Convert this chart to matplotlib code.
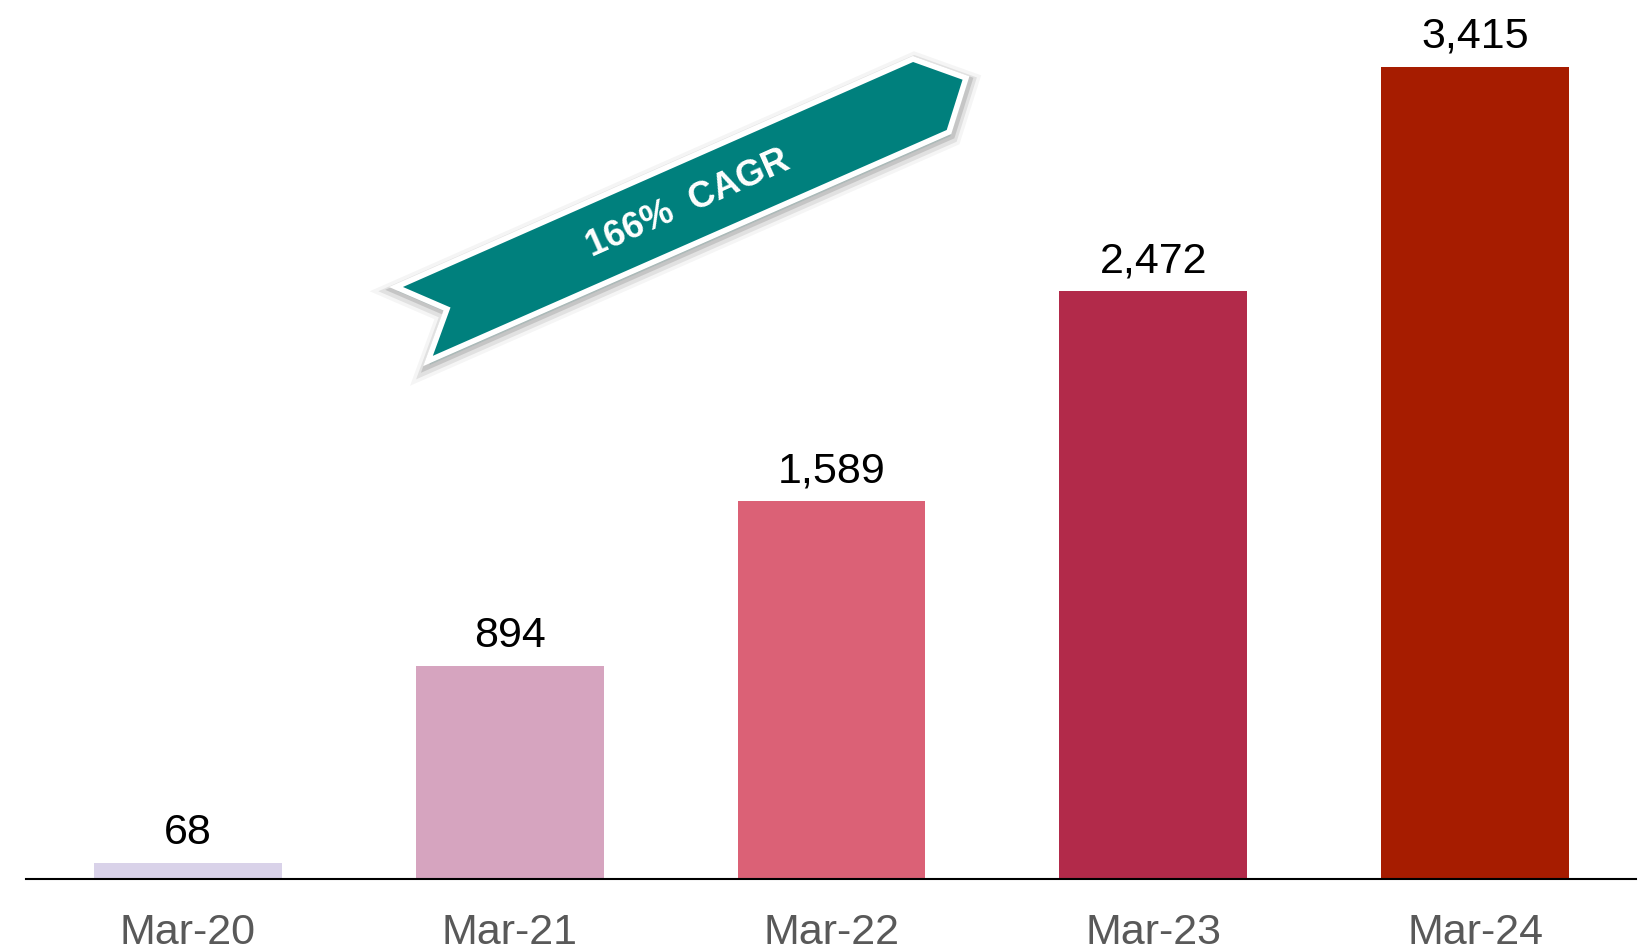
import matplotlib.pyplot as plt
import matplotlib.patheffects as pe
from matplotlib.patches import Polygon

plt.rcParams['font.family'] = ['Liberation Sans', 'DejaVu Sans']

# data
periods = ['Mar-20', 'Mar-21', 'Mar-22', 'Mar-23', 'Mar-24']
values = [68, 894, 1589, 2472, 3415]
bar_colors = ['#D9D2E9', '#D6A4BF', '#DB6176', '#B22A4A', '#A61C00']
cagr_text = '166%  CAGR'

W, H = 1647, 953
fig = plt.figure(figsize=(W / 100, H / 100), dpi=100)
ax = fig.add_axes([26 / W, 73 / H, (1636 - 26) / W, (H - 73) / H])

x = list(range(len(periods)))
ax.bar(x, values, width=0.584, color=bar_colors, zorder=2)

for xi, v in zip(x, values):
    ax.annotate(f'{v:,}', (xi, v), xytext=(0, 20), textcoords='offset pixels',
                ha='center', va='baseline', fontsize=31, color='black')

ax.set_xlim(-0.503, 4.5)
ax.set_ylim(0, 3415 * 880 / 812)
ax.set_xticks(x)
ax.set_xticklabels(periods, fontsize=31, color='#595959')
ax.tick_params(axis='x', length=0, pad=24)
ax.set_yticks([])
for s in ['top', 'left', 'right']:
    ax.spines[s].set_visible(False)
ax.spines['bottom'].set_linewidth(1.5)
ax.spines['bottom'].set_color('black')

# CAGR ribbon (pixel positions, y from top)
ribbon_px = [(396, 288), (913, 60), (966, 79), (949, 133), (428, 362), (447, 310)]
pts = [(px / W, 1 - py / H) for px, py in ribbon_px]
ribbon = Polygon(pts, closed=True, transform=fig.transFigure, facecolor='#00807D',
                 edgecolor='white', linewidth=4, joinstyle='miter', zorder=5)
ribbon.set_path_effects([
    pe.Stroke(linewidth=16, foreground='#000000', alpha=0.04, offset=(1, -3)),
    pe.Stroke(linewidth=11, foreground='#000000', alpha=0.08, offset=(1, -3)),
    pe.Stroke(linewidth=7, foreground='#000000', alpha=0.12, offset=(1, -2)),
    pe.Normal()])
fig.add_artist(ribbon)

fig.text(688 / W, 1 - 204 / H, cagr_text, rotation=24, rotation_mode='anchor',
         ha='center', va='center', fontsize=26, fontweight='bold', color='white', zorder=6)

plt.savefig('out.png', dpi=100)
